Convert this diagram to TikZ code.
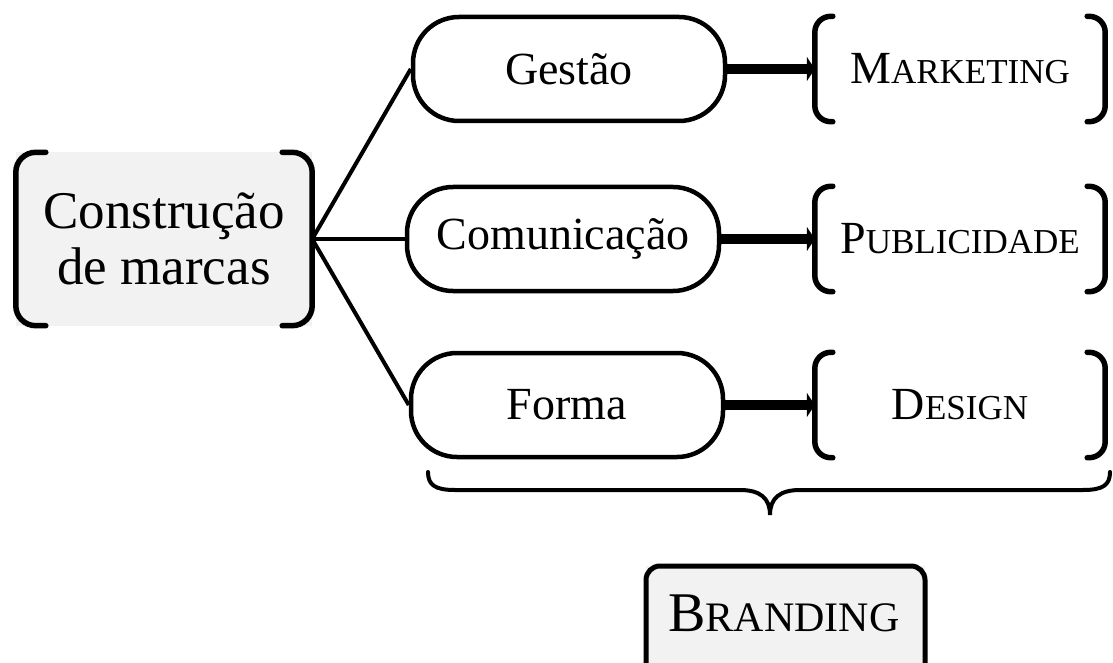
\documentclass[tikz,border=0pt]{standalone}
\usepackage{fontspec}
\setmainfont{Liberation Serif}
\usetikzlibrary{arrows.meta}
\definecolor{boxgray}{HTML}{F2F2F2}
% hand-made small capitals: first letter, rest, big size, small size
\newcommand{\capsword}[4]{{\fontsize{#3}{#3}\selectfont #1}{\fontsize{#4}{#4}\selectfont #2}}
\begin{document}
\begin{tikzpicture}[x=1pt,y=-1pt,
  pill/.style={draw, line width=4.5pt, rounded corners=46pt, minimum width=312pt,
    minimum height=104pt, inner sep=0pt, font=\fontsize{46}{46}\selectfont},
  link/.style={line width=4pt},
  fatarrow/.style={line width=10pt, -{Triangle[length=8pt,width=24pt]}},
  bracket/.style={line width=5.5pt, line cap=round, rounded corners=20pt},
  area/.style={minimum width=290pt, minimum height=105pt, inner sep=0pt}
]
\useasboundingbox (0,0) rectangle (1113,663);

% root box with its square brackets
\node[fill=boxgray, minimum width=296pt, minimum height=173pt, inner sep=0pt,
  align=center, font=\fontsize{53}{56}\selectfont] (cm) at (164,239)
  {Construção\\de marcas};
\draw[bracket] ([xshift=30pt]cm.north west) -| (cm.south west) -- ++(30,0);
\draw[bracket] ([xshift=-30pt]cm.north east) -| (cm.south east) -- ++(-30,0);

% the three pillars
\node[pill] (g) at (569,69) {Gestão};
\node[pill] (c) at (563,239) {Comunicação};
\node[pill] (f) at (567,405) {Forma};

\draw[link] (cm.east) -- (g.west);
\draw[link] (cm.east) -- (c.west);
\draw[link] (cm.east) -- (f.west);

% the disciplines
\node[area] (mk) at (960,69) {\capsword{M}{ARKETING}{46}{35}};
\node[area] (pb) at (960,239) {\capsword{P}{UBLICIDADE}{46}{35}};
\node[area] (ds) at (960,405) {\capsword{D}{ESIGN}{46}{35}};

\foreach \n in {mk,pb,ds}{
  \draw[bracket, rounded corners=16pt] ([xshift=18pt]\n.north west) -| (\n.south west) -- ++(18,0);
  \draw[bracket, rounded corners=16pt] ([xshift=-18pt]\n.north east) -| (\n.south east) -- ++(-18,0);
}

\draw[fatarrow] (g.east) -- (mk.west);
\draw[fatarrow] (c.east) -- (pb.west);
\draw[fatarrow] (f.east) -- (ds.west);

% brace gathering the disciplines
\coordinate (bl) at (428,472);
\coordinate (br) at (1110,472);
\coordinate (tip) at (770,515);
\draw[line width=4pt, line cap=round]
  (bl) .. controls (428,485) and (435,490) .. (455,490)
  -- (740,490) .. controls (760,490) and (770,498) .. (tip)
  .. controls (770,498) and (780,490) .. (800,490)
  -- (1083,490) .. controls (1103,490) and (1110,485) .. (br);

% result box, running off the lower edge
\fill[boxgray] (646,566) rectangle (925,663);
\draw[line width=5pt, rounded corners=14pt] (646,670) -- (646,566) -- (925,566) -- (925,670);
\node[inner sep=0pt] (brand) at (784,613) {\capsword{B}{RANDING}{56}{42}};
\end{tikzpicture}
\end{document}
